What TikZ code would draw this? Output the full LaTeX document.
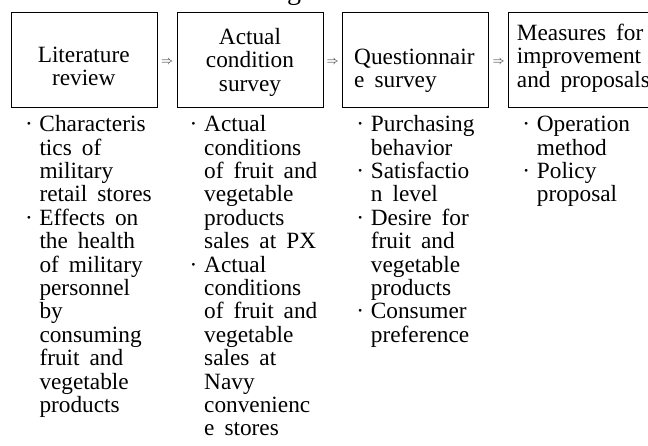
\documentclass[tikz,border=0pt]{standalone}
\usepackage{fontspec}
\setmainfont{Liberation Serif}

% body text: wide, rigid word spaces and tight leading
\newcommand\bodyfont{\fontsize{23.3}{23.4}\selectfont\lineskiplimit=-50pt\spaceskip=10pt\relax}
\newcommand\arrowfont{\fontsize{13}{12}\selectfont}
% an item mark hung to the left of the first line
\newcommand\itm{\leavevmode\llap{\makebox[14.5pt][l]{·}}}

\begin{document}
\begin{tikzpicture}[x=1pt,y=-1pt,
  stage/.style={draw=black, line width=1pt, minimum width=146pt,
                minimum height=95pt, inner sep=0pt, anchor=north west},
  boxtext/.style={inner sep=0pt, font=\bodyfont},
  listtext/.style={inner sep=0pt, anchor=base west, font=\bodyfont},
  flow/.style={inner sep=0pt, font=\arrowfont, text=black!85}]
\useasboundingbox (0,0) rectangle (648,446);
\clip (0,0) rectangle (648,446);

% caption above the boxes
\node[anchor=base west, inner sep=0pt, font=\fontsize{28}{28}\selectfont]
  (title) at (33,-0.5) {Table 1. Research design};

% the four stages
\node[stage] (b1) at (10.7,11.7) {};
\node[stage] (b2) at (176.7,11.7) {};
\node[stage] (b3) at (341.7,11.7) {};
\node[stage] (b4) at (508.3,11.7) {};

% stage titles
\node[boxtext, anchor=base] (t1) at (83.7,62.3)
  {\parbox[t]{140pt}{\centering Literature\\review}};
\node[boxtext, anchor=base] (t2) at (250,44.3)
  {\parbox[t]{140pt}{\centering Actual\\condition\\survey}};
\node[boxtext, anchor=base west] (t3) at (354,64.3)
  {\parbox[t]{130pt}{\raggedright Questionnair\\e survey}};
\node[boxtext, anchor=base west] (t4) at (516.7,40.3)
  {\parbox[t]{140pt}{\raggedright Measures for\\improvement\\and proposals}};

% arrows between stages
\path (b1.east) -- node[flow, yshift=-3pt] (a12) {$\Rightarrow$} (b2.west);
\path (b2.east) -- node[flow, yshift=-3pt] (a23) {$\Rightarrow$} (b3.west);
\path (b3.east) -- node[flow, yshift=-3pt] (a34) {$\Rightarrow$} (b4.west);

% contents of each stage
\node[listtext] (l1) at (39.3,131.7) {\parbox[t]{150pt}{\raggedright
  \itm Characteris\\tics of\\military\\retail stores\\
  \itm Effects on\\the health\\of military\\personnel\\by\\consuming\\fruit and\\vegetable\\products}};
\node[listtext] (l2) at (204,131.7) {\parbox[t]{150pt}{\raggedright
  \itm Actual\\conditions\\of fruit and\\vegetable\\products\\sales at PX\\
  \itm Actual\\conditions\\of fruit and\\vegetable\\sales at\\Navy\\convenienc\\e stores}};
\node[listtext] (l3) at (370.7,131.7) {\parbox[t]{150pt}{\raggedright
  \itm Purchasing\\behavior\\
  \itm Satisfactio\\n level\\
  \itm Desire for\\fruit and\\vegetable\\products\\
  \itm Consumer\\preference}};
\node[listtext] (l4) at (536.7,131.7) {\parbox[t]{110pt}{\raggedright
  \itm Operation\\method\\
  \itm Policy\\proposal}};
\end{tikzpicture}
\end{document}
